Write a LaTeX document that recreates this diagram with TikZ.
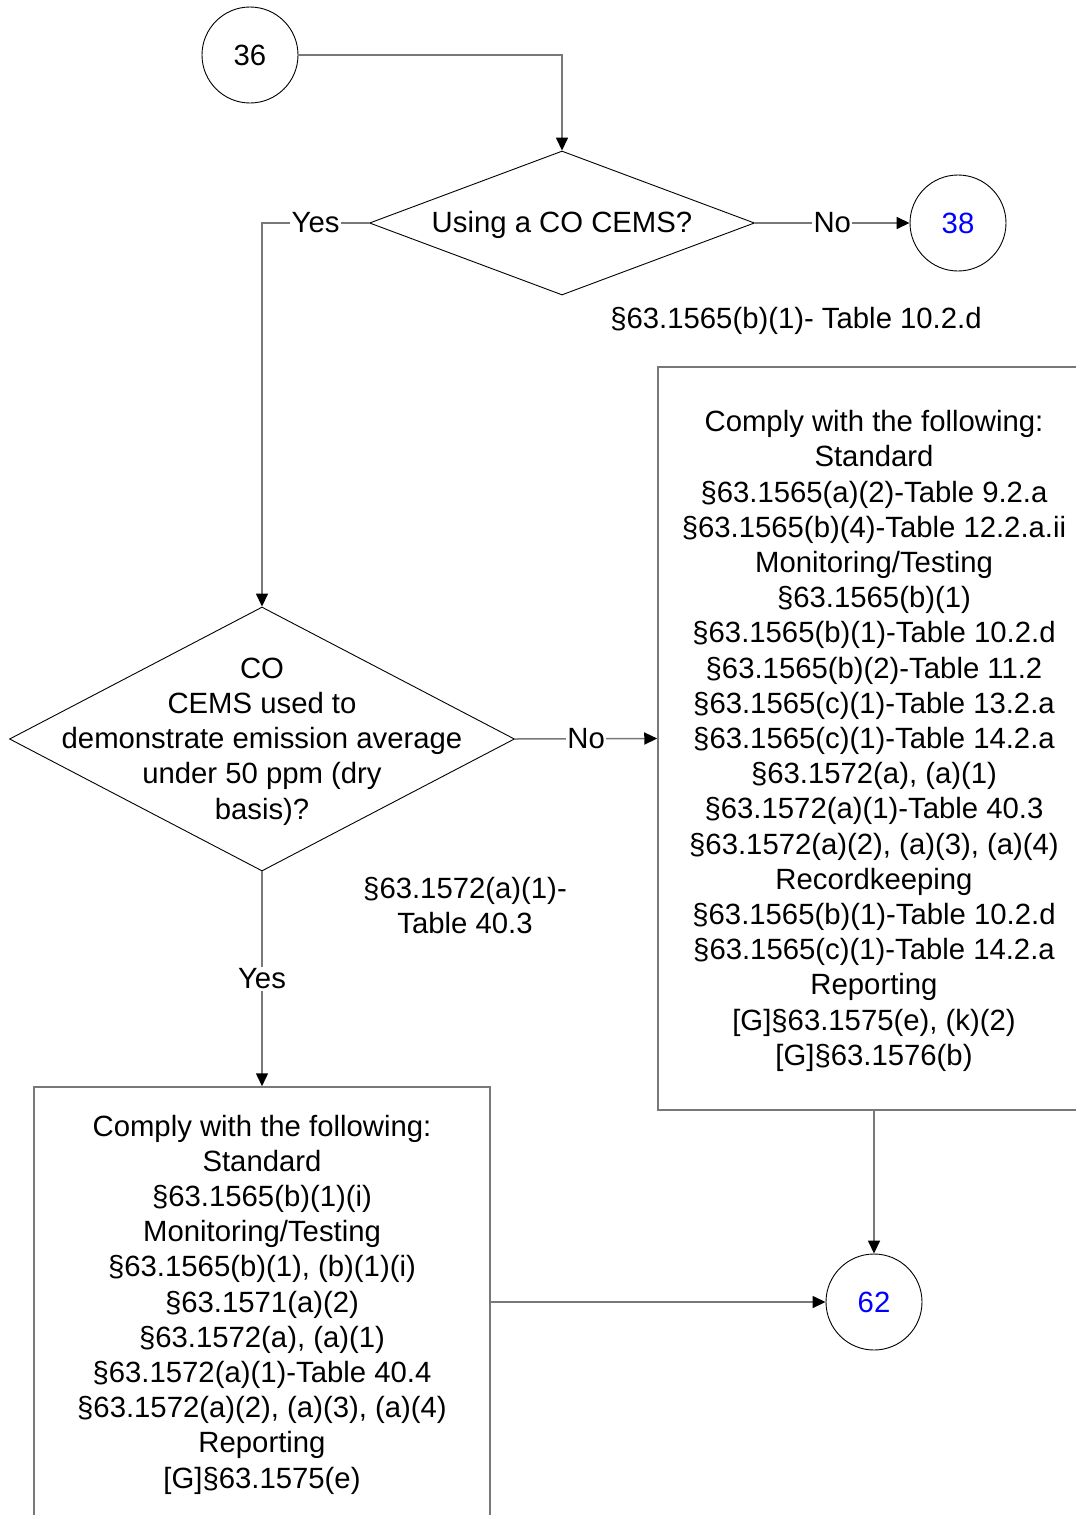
\documentclass[tikz,border=0pt]{standalone}
\usepackage{fontspec}
\setmainfont{Liberation Sans}
\usetikzlibrary{shapes.geometric,arrows.meta}
\definecolor{lgray}{RGB}{120,120,120}
\definecolor{refblue}{RGB}{0,0,255}
\begin{document}
\begin{tikzpicture}[x=1pt,y=-1pt,
  every node/.append style={font=\fontsize{29.3}{35.2}\selectfont},
  conn/.style={draw=lgray,line width=1.5pt,-{Triangle[length=13pt,width=12pt,color=black]}},
  decision/.style={diamond,draw=black,line width=0.9pt,inner sep=0pt},
  term/.style={circle,draw=black,line width=0.9pt,minimum size=96pt,inner sep=0pt},
  stepbox/.style={rectangle,draw=lgray,line width=1.5pt,inner sep=0pt},
  lbl/.style={fill=white,inner sep=1.5pt},
  note/.style={align=center,inner sep=0pt,yshift=-2.5pt}]
\useasboundingbox (0,0) rectangle (1076,1515);
\clip (0,0) rectangle (1076,1515);

\node[term] (c36) at (250,55) {36};
\node[decision,minimum width=385pt,minimum height=144pt] (d1) at (562,223) {};
\node[note,yshift=1pt] (d1t) at (d1.center) {Using a CO CEMS?};
\node[term,text=refblue] (c38) at (958,223) {38};
\node[note] (n1) at (796,318) {§63.1565(b)(1)- Table 10.2.d};

\node[decision,minimum width=505pt,minimum height=264pt] (d2) at (262,739) {};
\node[note] (d2t) at (d2.center) {CO\\CEMS used to\\demonstrate emission average\\under 50 ppm (dry\\basis)?};
\node[note] (n2) at (465,903) {§63.1572(a)(1)-\\Table 40.3};

\node[stepbox,minimum width=432pt,minimum height=743pt] (rbox) at (874,738.5) {};
\node[note] (rboxt) at (rbox.center) {Comply with the following:\\Standard\\§63.1565(a)(2)-Table 9.2.a\\§63.1565(b)(4)-Table 12.2.a.ii\\Monitoring/Testing\\§63.1565(b)(1)\\§63.1565(b)(1)-Table 10.2.d\\§63.1565(b)(2)-Table 11.2\\§63.1565(c)(1)-Table 13.2.a\\§63.1565(c)(1)-Table 14.2.a\\§63.1572(a), (a)(1)\\§63.1572(a)(1)-Table 40.3\\§63.1572(a)(2), (a)(3), (a)(4)\\Recordkeeping\\§63.1565(b)(1)-Table 10.2.d\\§63.1565(c)(1)-Table 14.2.a\\Reporting\\{[G]}§63.1575(e), (k)(2)\\{[G]}§63.1576(b)};

\node[stepbox,minimum width=456pt,minimum height=430pt] (bbox) at (262,1302) {};
\node[note] (bboxt) at (bbox.center) {Comply with the following:\\Standard\\§63.1565(b)(1)(i)\\Monitoring/Testing\\§63.1565(b)(1), (b)(1)(i)\\§63.1571(a)(2)\\§63.1572(a), (a)(1)\\§63.1572(a)(1)-Table 40.4\\§63.1572(a)(2), (a)(3), (a)(4)\\Reporting\\{[G]}§63.1575(e)};

\node[term,text=refblue] (c62) at (874,1302) {62};

\draw[conn] (c36.east) -| (d1.north);
\draw[conn] (d1.west) -| node[lbl,pos=0.25]{Yes} (d2.north);
\draw[conn] (d1.east) -- node[lbl]{No} (c38.west);
\draw[conn] (d2.east) -- node[lbl]{No} (rbox.west);
\draw[conn] (d2.south) -- node[lbl]{Yes} (bbox.north);
\draw[conn] (rbox.south) -- (c62.north);
\draw[conn] (bbox.east) -- (c62.west);
\end{tikzpicture}
\end{document}
